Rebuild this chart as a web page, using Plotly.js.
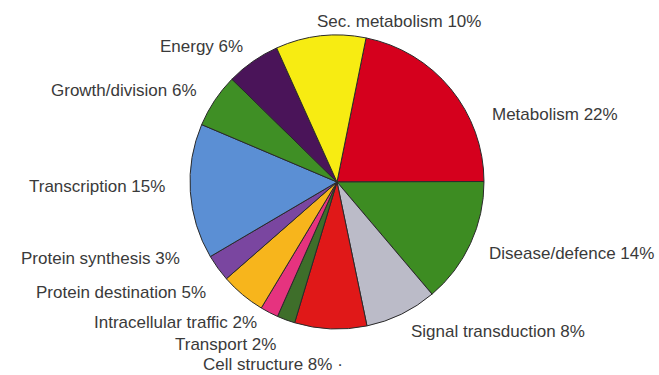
<!DOCTYPE html>
<html>
<head>
<meta charset="utf-8">
<script src="https://cdn.plot.ly/plotly-3.0.1.min.js"></script>
<style>html,body{margin:0;padding:0;background:#fff;}#chart{width:659px;height:375px;}</style>
</head>
<body>
<div id="chart"></div>
<script>
const categories = ["Metabolism", "Disease/defence", "Signal transduction", "Cell structure", "Transport",
  "Intracellular traffic", "Protein destination", "Protein synthesis", "Transcription",
  "Growth/division", "Energy", "Sec. metabolism"];
const percents = [22, 14, 8, 8, 2, 2, 5, 3, 15, 6, 6, 10];
const sliceColors = ["#d5001d", "#3d8c22", "#bbbbc8", "#e01818", "#3e6e2a", "#e6337f",
  "#f7b51c", "#7a46a0", "#5b8fd4", "#3f8f25", "#4a1459", "#f7ec12"];

// label placement (pixels in 659x375 frame): x, y, anchor
const labelPos = [
  [490, 115, "left"], [487, 253, "left"], [409, 331, "left"], [335, 364, "right"],
  [278, 344, "right"], [259, 322, "right"], [208, 292, "right"], [182, 258, "right"],
  [167, 187, "right"], [199, 90, "right"], [245, 47, "right"], [399, 21, "center"]
];

const W = 659, H = 375;
const cx = 337, cy = 182, r = 147;

const annotations = categories.map((c, i) => ({
  text: c + " " + percents[i] + "%" + (i === 3 ? " ·" : ""),
  xref: "paper", yref: "paper",
  x: labelPos[i][0] / W + (i === 3 ? 10 / W : 0),
  y: 1 - labelPos[i][1] / H,
  xanchor: labelPos[i][2], yanchor: "middle",
  showarrow: false,
  font: {family: "Liberation Sans, Arial, sans-serif", size: 17, color: "#3a3a3a"}
}));

const trace = {
  type: "pie",
  labels: categories,
  values: percents,
  sort: false,
  direction: "clockwise",
  rotation: 11.4,
  textinfo: "none",
  hoverinfo: "label+percent",
  marker: {colors: sliceColors, line: {color: "#2a2a2a", width: 1}},
  domain: {x: [(cx - r) / W, (cx + r) / W], y: [1 - (cy + r) / H, 1 - (cy - r) / H]},
  showlegend: false
};

Plotly.newPlot("chart", [trace], {
  width: W, height: H,
  margin: {l: 0, r: 0, t: 0, b: 0},
  paper_bgcolor: "#ffffff",
  showlegend: false,
  annotations: annotations
}, {staticPlot: true, displayModeBar: false});
</script>
</body>
</html>
